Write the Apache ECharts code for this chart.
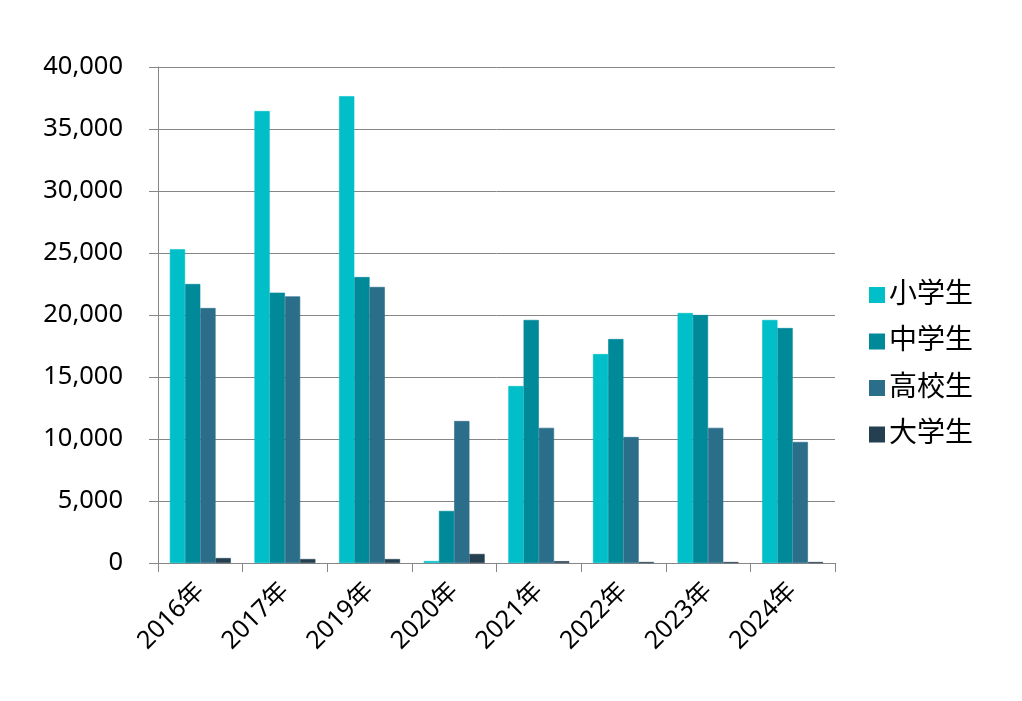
<!DOCTYPE html>
<html><head><meta charset="utf-8">
<script src="https://cdn.jsdelivr.net/npm/echarts@6/dist/echarts.min.js"></script>
<style>html,body{margin:0;padding:0;background:#fff}#c{width:1022px;height:701px}</style>
</head><body><div id="c"></div>
<script>
const categories = ['2016年','2017年','2019年','2020年','2021年','2022年','2023年','2024年'];
const seriesNames = ['小学生','中学生','高校生','大学生'];
const elementary = [25300, 36450, 37650, 160, 14270, 16850, 20160, 19600];
const juniorHigh = [22500, 21800, 23060, 4200, 19600, 18060, 20000, 18950];
const highSchool = [20560, 21500, 22260, 11450, 10900, 10160, 10900, 9760];
const university = [400, 320, 320, 730, 150, 80, 80, 80];
const yTicks = {min: 0, max: 40000, interval: 5000};
const colors = ['#00BFC9', '#008A99', '#2A6E8A', '#243F50'];

const font = '"Noto Sans", "Noto Sans CJK JP", sans-serif';
const chart = echarts.init(document.getElementById('c'), null, {renderer: 'canvas'});
const datasets = [elementary, juniorHigh, highSchool, university];
chart.setOption({
  animation: false,
  backgroundColor: '#fff',
  color: colors,
  grid: {left: 158, right: 187, top: 67, bottom: 138, containLabel: false},
  legend: {
    orient: 'vertical', right: 44, top: 276,
    icon: 'rect', itemWidth: 14, itemHeight: 14, itemGap: 18.5,
    textStyle: {fontFamily: font, fontSize: 28, color: '#000'},
    data: seriesNames
  },
  xAxis: {
    type: 'category', data: categories,
    axisLine: {lineStyle: {color: '#868686', width: 1}},
    axisTick: {show: true, length: 9, lineStyle: {color: '#868686'}},
    axisLabel: {rotate: 45, margin: 24, fontFamily: font, fontSize: 25, color: '#000'}
  },
  yAxis: {
    type: 'value', min: yTicks.min, max: yTicks.max, interval: yTicks.interval,
    axisLine: {show: true, lineStyle: {color: '#868686', width: 1}},
    axisTick: {show: true, length: 9, lineStyle: {color: '#868686'}},
    splitLine: {lineStyle: {color: '#868686', width: 1}},
    axisLabel: {margin: 35, fontFamily: font, fontSize: 25.5, color: '#000',
      formatter: v => v.toLocaleString('en-US')}
  },
  series: seriesNames.map((n, i) => ({
    name: n, type: 'bar', data: datasets[i],
    barGap: '0%', barCategoryGap: '28%',
    itemStyle: {borderColor: colors[i], borderWidth: 0.6}
  }))
});
</script></body></html>
